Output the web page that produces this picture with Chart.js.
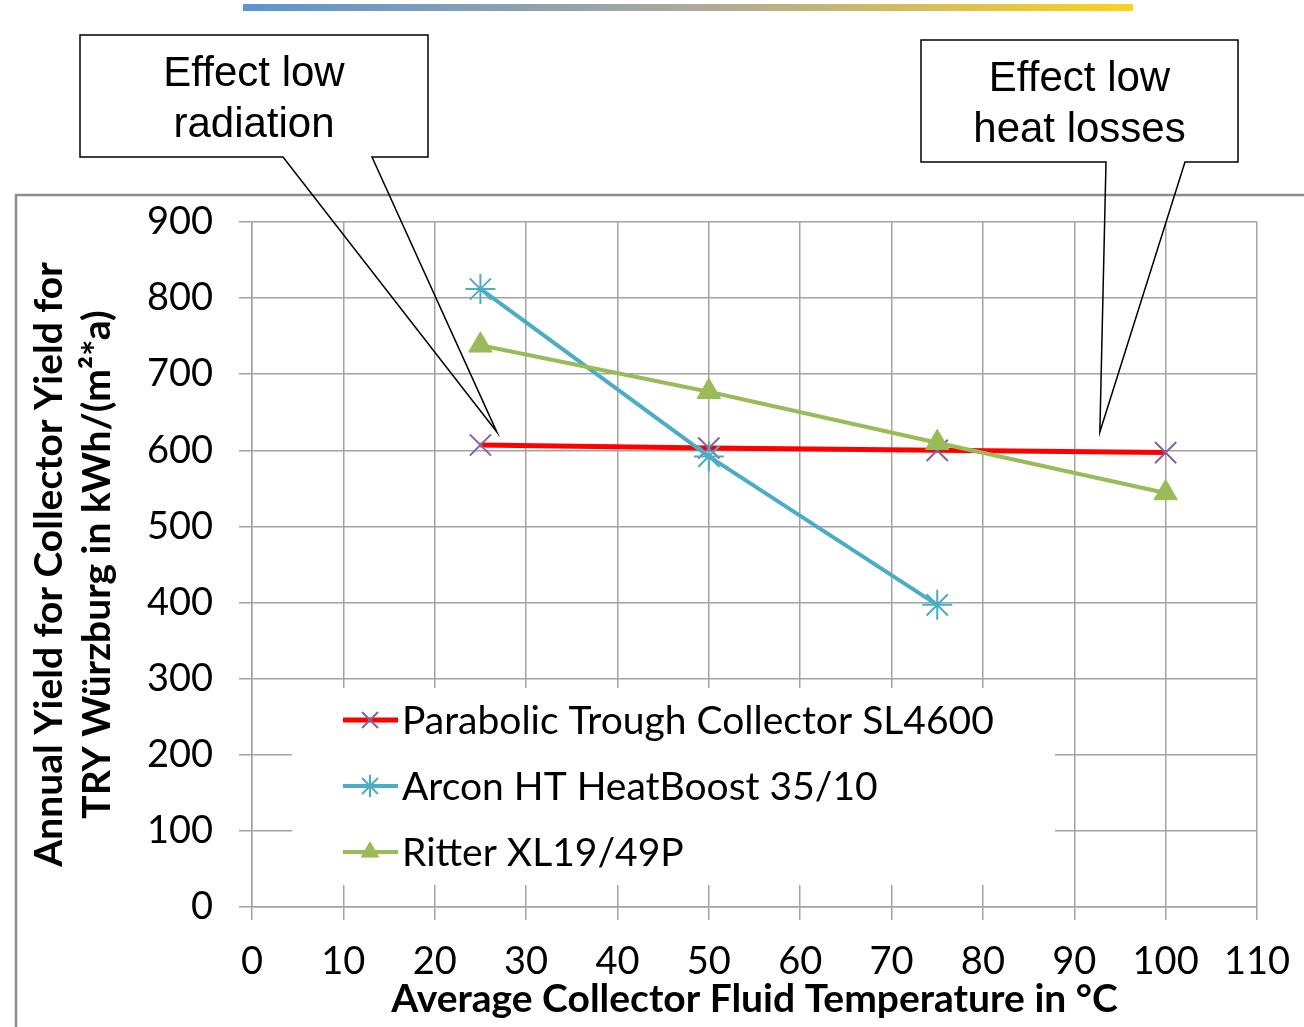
<!DOCTYPE html>
<html>
<head>
<meta charset="utf-8">
<script src="https://cdn.jsdelivr.net/npm/chart.js@4.4.0/dist/chart.umd.min.js"></script>
<style>
  html, body { margin: 0; padding: 0; background: #fff; }
</style>
</head>
<body>
<canvas id="grafico" width="1304" height="1027"></canvas>
<script>
// values
const temperatures = [25, 50, 75, 100];
const parabolic = [607, 603, 600, 597];
const arcon = [812, 592, 397];
const ritter = [738, 677, 610, 544];
const seriesNames = ["Parabolic Trough Collector SL4600", "Arcon HT HeatBoost 35/10", "Ritter XL19/49P"];
const xTicks = [0, 110, 10];   // min, max, step
const yTicks = [0, 900, 100];
const xTitle = "Average Collector Fluid Temperature in °C";
const yTitle = ["Annual Yield for Collector Yield for", "TRY Würzburg in kWh/(m²*a)"];
const callouts = [
  { lines: ["Effect low", "radiation"], tip: [26.8, 624] },
  { lines: ["Effect low", "heat losses"], tip: [92.8, 624] }
];

const GRID = "#a3a3a3";
const FONT = "Lato";

function toPoints(ys) {
  return ys.map((y, i) => ({ x: temperatures[i], y: y }));
}

const decor = {
  id: "decor",
  beforeDraw(chart) {
    const ctx = chart.ctx;
    ctx.save();
    ctx.fillStyle = "#fff";
    ctx.fillRect(0, 0, chart.width, chart.height);
    // slide bar on top
    const g = ctx.createLinearGradient(243, 0, 1133, 0);
    g.addColorStop(0, "#5b95d2");
    g.addColorStop(0.5, "#aaa99c");
    g.addColorStop(1, "#fcd21c");
    ctx.fillStyle = g;
    ctx.fillRect(243, 4, 890, 7);
    // chart frame
    ctx.strokeStyle = "#8c8c8c";
    ctx.lineWidth = 2.5;
    ctx.strokeRect(16, 195, 1400, 1000);
    ctx.restore();
  },
  beforeDatasetsDraw(chart) {
    // legend inside the plot
    const ctx = chart.ctx;
    ctx.save();
    ctx.fillStyle = "#fff";
    ctx.fillRect(292, 688, 763, 197);
    chart.data.datasets.forEach((ds, i) => {
      const y = 720 + i * 66;
      ctx.strokeStyle = ds.borderColor;
      ctx.lineWidth = ds.borderWidth;
      ctx.beginPath();
      ctx.moveTo(343, y);
      ctx.lineTo(398, y);
      ctx.stroke();
      ctx.strokeStyle = ds.pointBorderColor;
      ctx.fillStyle = ds.pointBackgroundColor;
      ctx.lineWidth = ds.pointBorderWidth;
      Chart.helpers.drawPoint(ctx, { pointStyle: ds.pointStyle, radius: ds.pointRadius * 0.75, borderWidth: ds.pointBorderWidth, rotation: 0 }, 370, y);
      ctx.fillStyle = "#000";
      ctx.font = "39px " + FONT;
      ctx.textBaseline = "middle";
      ctx.textAlign = "left";
      ctx.fillText(ds.label, 402, y + 1);
    });
    ctx.restore();
  },
  afterDraw(chart) {
    const ctx = chart.ctx;
    const sx = chart.scales.x, sy = chart.scales.y;
    const boxes = [
      { l: 80, t: 35, r: 428, b: 157, b1: 283, b2: 372 },
      { l: 921, t: 40, r: 1238, b: 162, b1: 1106, b2: 1185 }
    ];
    ctx.save();
    callouts.forEach((c, i) => {
      const bx = boxes[i];
      const tx = sx.getPixelForValue(c.tip[0]);
      const ty = sy.getPixelForValue(c.tip[1]);
      ctx.fillStyle = "#fff";
      ctx.fillRect(bx.l, bx.t, bx.r - bx.l, bx.b - bx.t);
      ctx.strokeStyle = "#000";
      ctx.lineWidth = 1.5;
      ctx.beginPath();
      ctx.moveTo(bx.b1, bx.b);
      ctx.lineTo(bx.l, bx.b);
      ctx.lineTo(bx.l, bx.t);
      ctx.lineTo(bx.r, bx.t);
      ctx.lineTo(bx.r, bx.b);
      ctx.lineTo(bx.b2, bx.b);
      ctx.lineTo(tx, ty);
      ctx.closePath();
      ctx.stroke();
      ctx.fillStyle = "#000";
      ctx.font = "42px 'Liberation Sans'";
      ctx.textAlign = "center";
      ctx.textBaseline = "middle";
      const cx = (bx.l + bx.r) / 2;
      ctx.fillText(c.lines[0], cx, bx.t + 39);
      ctx.fillText(c.lines[1], cx, bx.t + 90);
    });
    ctx.restore();
  }
};

const ctx = document.getElementById("grafico").getContext("2d");
const chart = new Chart(ctx, {
  type: "line",
  data: {
    datasets: [
      {
        label: seriesNames[0],
        data: toPoints(parabolic),
        borderColor: "#ff0000",
        borderWidth: 5,
        pointStyle: "crossRot",
        pointRadius: 15,
        pointBorderColor: "#8064a2",
        pointBackgroundColor: "#8064a2",
        pointBorderWidth: 2,
        order: 3
      },
      {
        label: seriesNames[1],
        data: toPoints(arcon),
        borderColor: "#4bacc6",
        borderWidth: 4,
        pointStyle: "star",
        pointRadius: 15,
        pointBorderColor: "#4bacc6",
        pointBackgroundColor: "#4bacc6",
        pointBorderWidth: 2,
        order: 2
      },
      {
        label: seriesNames[2],
        data: toPoints(ritter),
        borderColor: "#9bbb59",
        borderWidth: 4,
        pointStyle: "triangle",
        pointRadius: 13.5,
        pointBorderColor: "#9bbb59",
        pointBackgroundColor: "#9bbb59",
        pointBorderWidth: 1,
        order: 1
      }
    ]
  },
  options: {
    responsive: false,
    animation: false,
    devicePixelRatio: 1,
    layout: { autoPadding: false, padding: { left: 16, top: 222, right: 47, bottom: 0 } },
    plugins: { legend: { display: false }, tooltip: { enabled: false } },
    elements: { line: { tension: 0 } },
    scales: {
      x: {
        type: "linear",
        min: xTicks[0],
        max: xTicks[1],
        afterFit(s) {
          s.height = 120;
          s.paddingLeft = 0;
          s.paddingRight = 0;
        },
        ticks: { stepSize: xTicks[2], color: "#000", padding: 19, font: { family: FONT, size: 38 } },
        grid: { color: GRID, lineWidth: 1.5, tickLength: 13 },
        border: { color: GRID, width: 1.5 },
        title: { display: true, text: xTitle, color: "#000", padding: { top: 0, bottom: 3 }, font: { family: FONT, size: 39, weight: "bold", lineHeight: 1.25 } }
      },
      y: {
        min: yTicks[0],
        max: yTicks[1],
        afterFit(s) { s.width = 236; },
        ticks: { stepSize: yTicks[2], color: "#000", padding: 26, font: { family: FONT, size: 38 } },
        grid: { color: GRID, lineWidth: 1.5, tickLength: 13 },
        border: { color: GRID, width: 1.5 },
        title: { display: true, text: yTitle, color: "#000", padding: { top: 9, bottom: 0 }, font: { family: FONT, size: 39, weight: "bold", lineHeight: 1.24 } }
      }
    }
  },
  plugins: [decor]
});
</script>
</body>
</html>
